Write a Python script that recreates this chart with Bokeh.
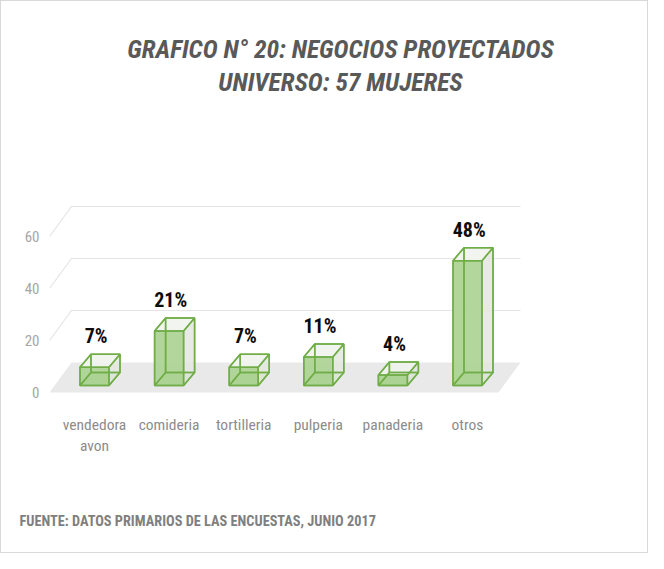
from bokeh.plotting import figure
from bokeh.models import FixedTicker, Range1d, Title
from bokeh.core.properties import value
from bokeh.embed import file_html
from bokeh.resources import INLINE

# ---- data ----
categories = ["vendedora avon", "comideria", "tortilleria", "pulperia", "panaderia", "otros"]
percentages = [7, 21, 7, 11, 4, 48]
y_ticks = [0, 20, 40, 60]
title_lines = ["GRAFICO N° 20: NEGOCIOS PROYECTADOS", "UNIVERSO: 57 MUJERES"]
source_note = "FUENTE: DATOS PRIMARIOS DE LAS ENCUESTAS, JUNIO 2017"

# ---- styling / geometry (pixels converted into data units) ----
SX = 74.6          # px per category
SY = 2.6           # px per value unit
FONT = "Roboto Condensed"
EDGE = "#70ad47"
FRONT = "#a9d18e"

W, H = 648, 553
LEFT = 48
FRAME_BOTTOM = 400
frame_w = W - LEFT
x0 = -45 / SX
y_top = 391 / SY
y_bot = (391 - FRAME_BOTTOM) / SY

p = figure(width=W, height=H, output_backend="svg", toolbar_location=None,
           x_range=Range1d(x0, x0 + frame_w / SX), y_range=Range1d(y_bot, y_top),
           min_border_left=LEFT, min_border_right=0, min_border_top=0,
           min_border_bottom=H - FRAME_BOTTOM)
p.styles = {"border": "1px solid #d9d9d9"}
p.outline_line_color = None
p.xgrid.visible = False
p.ygrid.visible = False

n = len(categories)
# floor and back-wall gridlines
WDX, WDY = 22 / SX, 30 / SY
xl, xr = x0, (497 - 93) / SX
p.patch([xl, xr, xr + WDX, xl + WDX], [0, 0, WDY, WDY], fill_color="#e9e9e9", line_color=None)
for g in y_ticks[1:]:
    p.line([xl, xl + WDX, xr + WDX], [g, g + WDY, g + WDY], line_color="#e4e4e4", line_width=1.2)

# bars drawn as oblique 3-D boxes
BY0 = 7 / SY
BDX, BDY = 11 / SX, 13 / SY
HW = 14.5 / SX
order = ["back", "left", "bottom", "right", "top", "front"]
faces = {k: ([], []) for k in order}
for i, v in enumerate(percentages):
    L, R = i - HW, i + HW
    b, t = BY0, BY0 + v
    dx, dy = BDX, BDY
    polys = {
        "back": ([L + dx, R + dx, R + dx, L + dx], [b + dy, b + dy, t + dy, t + dy]),
        "left": ([L, L + dx, L + dx, L], [b, b + dy, t + dy, t]),
        "bottom": ([L, R, R + dx, L + dx], [b, b, b + dy, b + dy]),
        "right": ([R, R + dx, R + dx, R], [b, b + dy, t + dy, t]),
        "top": ([L, R, R + dx, L + dx], [t, t, t + dy, t + dy]),
        "front": ([L, R, R, L], [b, b, t, t]),
    }
    for k, (xs, ys) in polys.items():
        faces[k][0].append(xs)
        faces[k][1].append(ys)

fills = {"back": ("#eef0ec", 0.5), "left": ("#e4e8e0", 0.5), "bottom": ("#b9d9a3", 0.6),
         "right": ("#e3e6e0", 0.75), "top": ("#f1f3ef", 0.85), "front": (FRONT, 0.88)}
for k in order:
    c, a = fills[k]
    p.patches(faces[k][0], faces[k][1], fill_color=c, fill_alpha=a, line_color=None)
for k in order:
    p.patches(faces[k][0], faces[k][1], fill_alpha=0, line_color=EDGE,
              line_width=1.5, line_alpha=0.95)

# value labels
p.text(x=[i + BDX * 0.15 for i in range(n)],
       y=[BY0 + v + BDY + 2.3 for v in percentages],
       text=[f"{v}%" for v in percentages],
       text_font=value(FONT), text_font_style="bold", text_font_size="20px",
       text_color="#0d0d0d", text_align="center", text_baseline="bottom")

# chart title (two lines)
p.text(x=[(339 - 93) / SX] * 2, y=[(391 - 47) / SY, (391 - 80) / SY], text=title_lines,
       text_font=value(FONT), text_font_style="bold italic", text_font_size="25.5px",
       text_color="#595959", text_align="center", text_baseline="middle")

# source note below the chart (leading line breaks push it down under the axis)
p.add_layout(Title(text="\n\n\n" + source_note, align="left", offset=-30, standoff=8,
                   vertical_align="bottom",
                   text_font=FONT, text_font_style="bold", text_font_size="14.3px",
                   text_color="#7f7f7f"), "below")

# axes
p.yaxis.ticker = FixedTicker(ticks=y_ticks)
p.yaxis.axis_line_color = None
p.yaxis.major_tick_line_color = None
p.yaxis.minor_tick_line_color = None
p.yaxis.major_tick_out = 0
p.yaxis.major_tick_in = 0
p.yaxis.major_label_standoff = 10
p.yaxis.major_label_text_font = FONT
p.yaxis.major_label_text_font_size = "15px"
p.yaxis.major_label_text_color = "#a6a6a6"

p.xaxis.ticker = FixedTicker(ticks=list(range(n)))
p.xaxis.major_label_overrides = {i: c.replace(" ", "\n") for i, c in enumerate(categories)}
p.xaxis.axis_line_color = None
p.xaxis.major_tick_line_color = None
p.xaxis.minor_tick_line_color = None
p.xaxis.major_tick_out = 0
p.xaxis.major_tick_in = 0
p.xaxis.major_label_standoff = 14
p.xaxis.major_label_text_font = FONT
p.xaxis.major_label_text_font_size = "15.5px"
p.xaxis.major_label_text_color = "#8c8c8c"

open("out.html", "w").write(file_html(p, INLINE))
